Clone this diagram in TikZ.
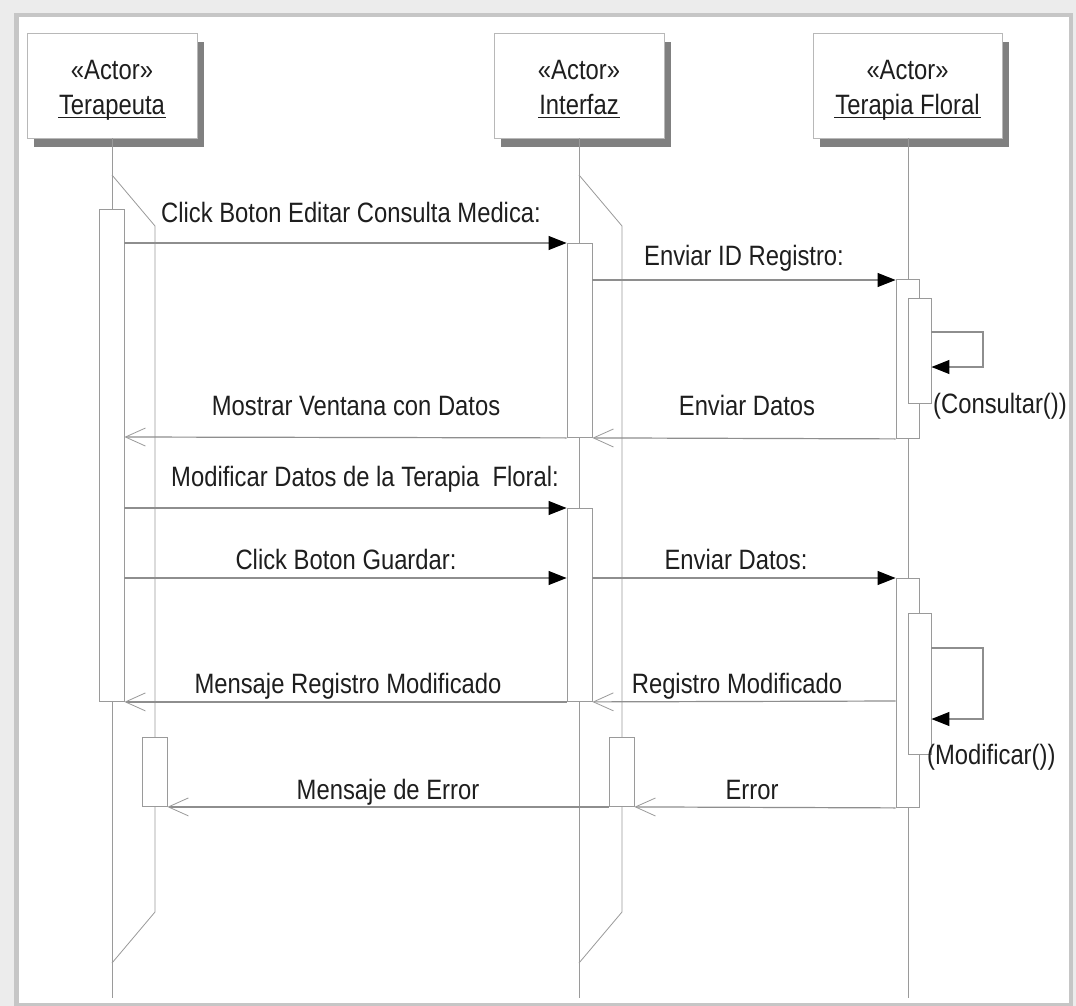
\documentclass[tikz,border=0pt]{standalone}
\usepackage{fontspec}
\setmainfont{Liberation Sans}[FakeStretch=0.85]
\usetikzlibrary{arrows.meta,shadows}
\definecolor{lineg}{HTML}{8E8E8E}
\definecolor{boxg}{HTML}{9A9A9A}
\definecolor{txt}{HTML}{1E1E1E}
\newcommand\ulname[1]{\setbox0\hbox{#1}\rlap{\kern-1pt\textcolor{txt}{\rule[-3.5pt]{\dimexpr\wd0+2pt\relax}{1.3pt}}}\box0}
\begin{document}
\begin{tikzpicture}[x=1pt,y=-1pt,
  every node/.style={font=\fontsize{28}{35}\selectfont, text=txt},
  actor/.style={draw=boxg!70, fill=white, line width=0.8pt, minimum width=170pt,
    minimum height=105pt, inner sep=0pt,
    drop shadow={shadow xshift=7pt, shadow yshift=-9pt, fill=gray, opacity=1}},
  lifeline/.style={draw=boxg, line width=0.8pt},
  act/.style={draw=boxg, fill=white, line width=0.9pt, minimum width=25pt,
    inner sep=0pt, anchor=north},
  actn/.style={act, minimum width=23pt},
  msg/.style={draw=lineg, line width=1.2pt},
  call/.style={msg, -{Triangle[length=18pt,width=14pt,color=black]}},
  ret/.style={msg, -{Straight Barb[length=20pt,width=18pt,line width=0.8pt,color=boxg]}},
  lbl/.style={anchor=base, inner sep=0pt},
  lbll/.style={anchor=base west, inner sep=0pt}
]
% frame
\fill[gray!15] (0,0) rectangle (1076,1006);
\fill[gray!45] (14,13) rectangle (1073,1006);
\fill[white] (19,17) rectangle (1069,1003);
\useasboundingbox (0,0) rectangle (1076,1006);

% actors
\node[actor] (ter) at (112,85.5) {};
\node[actor] (int) at (579,85.5) {};
\node[actor, minimum width=189pt] (flo) at (907.5,85.5) {};
\coordinate (st) at (0,80);
\coordinate (nm) at (0,115);
\node[lbl] (terS) at (ter.center |- st) {«Actor»};
\node[lbl] (terN) at (ter.center |- nm) {\ulname{Terapeuta}};
\node[lbl] (intS) at (int.center |- st) {«Actor»};
\node[lbl] (intN) at (int.center |- nm) {\ulname{Interfaz}};
\node[lbl] (floS) at (flo.center |- st) {«Actor»};
\node[lbl] (floN) at (flo.center |- nm) {\ulname{Terapia Floral}};

% lifeline ends
\coordinate (terEnd) at (112,998);
\coordinate (intEnd) at (579,998);
\coordinate (floEnd) at (908,998);
\draw[lifeline] (ter.south) -- (terEnd);
\draw[lifeline] (int.south) -- (intEnd);
\draw[lifeline] (flo.south -| floEnd) -- (floEnd);

% slanted shapes
\coordinate (ts1) at (112,175); \coordinate (ts2) at (155,226);
\coordinate (ts3) at (155,912); \coordinate (ts4) at (112,963);
\draw[lifeline] (ts1) -- (ts2) -- (ts3) -- (ts4);
\coordinate (is1) at (579,175); \coordinate (is2) at (622,226);
\coordinate (is3) at (622,912); \coordinate (is4) at (579,963);
\draw[lifeline] (is1) -- (is2) -- (is3) -- (is4);

% activations
\node[act, minimum height=492pt] (tA) at (111.5,209) {};
\node[act, minimum height=69pt] (tA2) at (154.5,737) {};
\node[act, minimum height=194pt] (iA1) at (579.5,243) {};
\node[act, minimum height=193pt] (iA2) at (579.5,508) {};
\node[act, minimum height=69pt] (iA3) at (621.5,737) {};
\node[actn, minimum height=159pt] (fA1) at (907.5,279) {};
\node[actn, minimum height=105pt] (fI1) at (919.5,298) {};
\node[actn, minimum height=229pt] (fA2) at (907.5,578) {};
\node[actn, minimum height=141pt] (fI2) at (919.5,613) {};

% message levels
\coordinate (y1) at (0,243);
\coordinate (y2) at (0,280);
\coordinate (y4) at (0,437);
\coordinate (y5) at (0,508);
\coordinate (y6) at (0,578);
\coordinate (y8) at (0,701);

% messages
\draw[call] (tA.east |- y1) -- (iA1.north west);
\draw[call] (iA1.east |- y2) -- (fA1.west |- y2);
\draw[ret] (fA1.south west) -- (iA1.south east);
\draw[ret] (iA1.south west) -- (tA.east |- y4);
\draw[call] (tA.east |- y5) -- (iA2.north west);
\draw[call] (tA.east |- y6) -- (iA2.west |- y6);
\draw[call] (iA2.east |- y6) -- (fA2.north west);
\draw[ret] (fA2.west |- y8) -- (iA2.south east);
\draw[ret] (iA2.south west) -- (tA.south east);
\draw[ret] (fA2.south west) -- (iA3.south east);
\draw[ret] (iA3.south west) -- (tA2.south east);

% self calls
\coordinate (l1a) at (983,332); \coordinate (l1b) at (983,367);
\draw[call] (fI1.east |- l1a) -- (l1a) -- (l1b) -- (fI1.east |- l1b);
\coordinate (l2a) at (983,648); \coordinate (l2b) at (983,719);
\draw[call] (fI2.east |- l2a) -- (l2a) -- (l2b) -- (fI2.east |- l2b);

% labels
\node[lbl] (t1) at (351,222) {Click Boton Editar Consulta Medica:};
\node[lbl] (t2) at (744,265) {Enviar ID Registro:};
\node[lbl] (t3) at (747,415) {Enviar Datos};
\node[lbl] (t4) at (356,415) {Mostrar Ventana con Datos};
\node[lbl] (t5) at (365,486) {Modificar Datos de la Terapia~~Floral:};
\node[lbl] (t6) at (346,569) {Click Boton Guardar:};
\node[lbl] (t7) at (736,569) {Enviar Datos:};
\node[lbl] (t8) at (737,693) {Registro Modificado};
\node[lbl] (t9) at (348,693) {Mensaje Registro Modificado};
\node[lbl] (t10) at (752,799) {Error};
\node[lbl] (t11) at (388,799) {Mensaje de Error};
\node[lbll] (t12) at (933,413) {(Consultar())};
\node[lbll] (t13) at (927,764) {(Modificar())};
\end{tikzpicture}
\end{document}
